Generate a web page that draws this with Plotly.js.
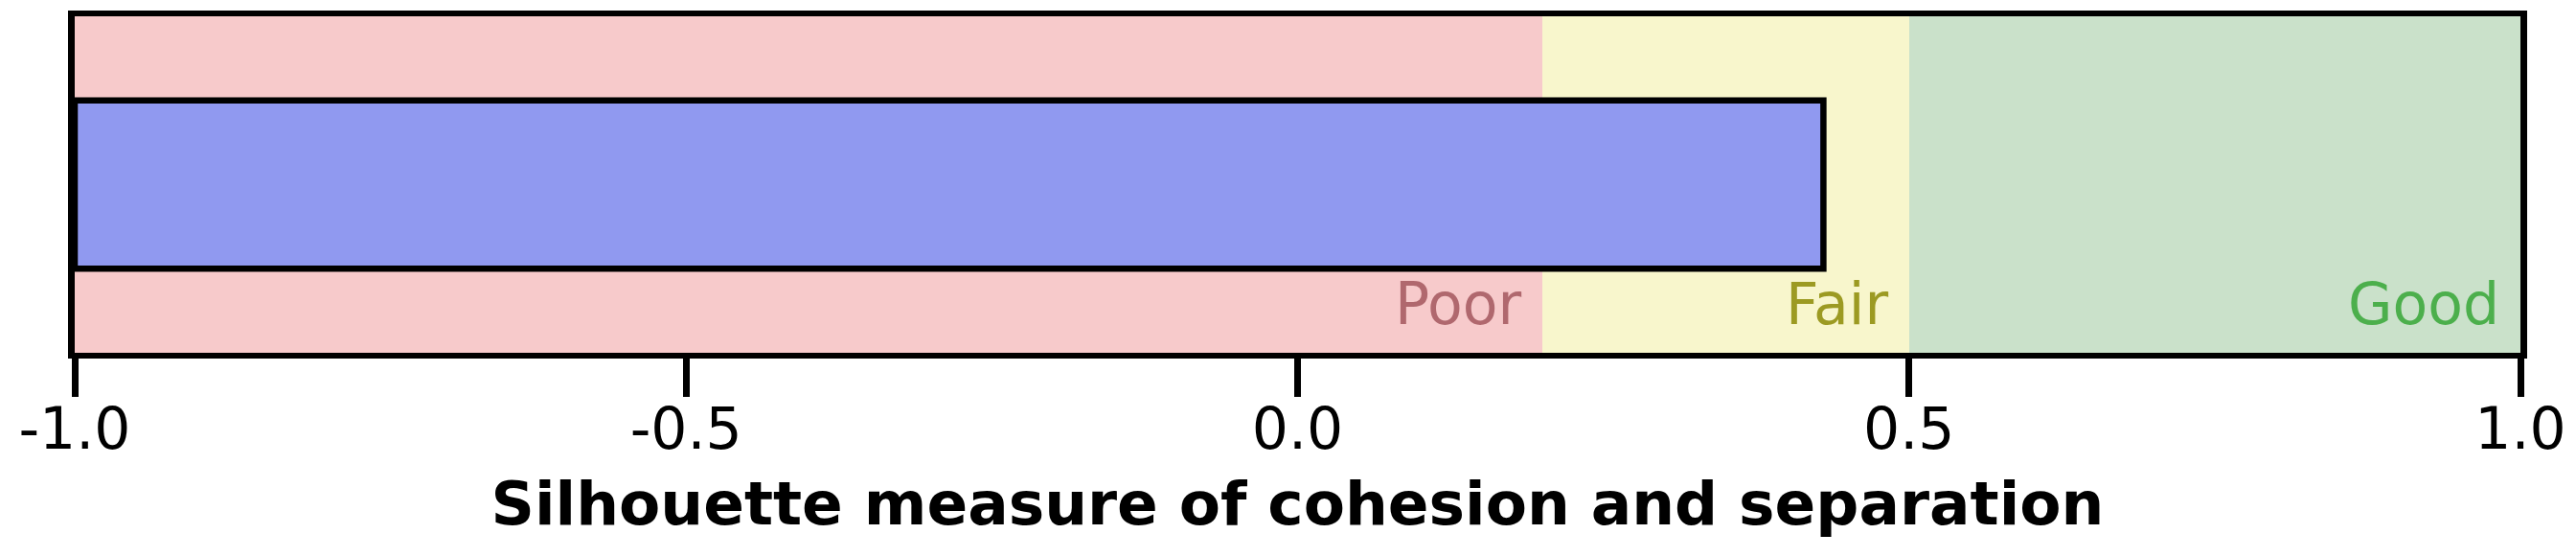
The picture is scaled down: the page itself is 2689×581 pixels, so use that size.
<!DOCTYPE html>
<html>
<head>
<meta charset="utf-8">
<script src="https://cdn.plot.ly/plotly-3.0.1.min.js"></script>
<style>
  html, body { margin: 0; padding: 0; background: #ffffff; }
  #chart { width: 2689px; height: 581px; }
</style>
</head>
<body>
<div id="chart"></div>
<script>
// ---- data ----
const bandNames  = ['Poor', 'Fair', 'Good'];
const bandStart  = [-1.0, 0.2, 0.5];
const bandEnd    = [0.2, 0.5, 1.0];
const bandColors = ['#F7CACB', '#F8F6CC', '#CAE1CA'];
const bandTextColors = ['#B0686E', '#9C9A22', '#4CAF4C'];

const measureLabel = ['Silhouette'];
const silhouetteValue = [0.43];
const axisMin = -1.0;

const tickVals = [-1.0, -0.5, 0.0, 0.5, 1.0];
const tickText = ['-1.0', '-0.5', '0.0', '0.5', '1.0'];
const xTitle = 'Silhouette measure of cohesion and separation';

// ---- traces ----
const bandTrace = {
  type: 'bar',
  orientation: 'h',
  y: bandNames.map(() => 0),
  x: bandEnd.map((e, i) => e - bandStart[i]),
  base: bandStart,
  width: bandNames.map(() => 1),
  marker: { color: bandColors, line: { width: 0 } },
  hoverinfo: 'skip',
  showlegend: false
};

const barTrace = {
  type: 'bar',
  orientation: 'h',
  y: measureLabel.map(() => 0),
  x: silhouetteValue.map(v => v - axisMin),
  base: silhouetteValue.map(() => axisMin),
  width: [0.5],
  marker: { color: '#9099F0', line: { color: '#000000', width: 6.5 } },
  showlegend: false
};

const annotations = bandNames.map((name, i) => ({
  text: name,
  x: bandEnd[i],
  xref: 'x',
  y: 0.145,
  yref: 'paper',
  xanchor: 'right',
  yanchor: 'middle',
  xshift: -20,
  showarrow: false,
  font: { family: 'DejaVu Sans', size: 60, color: bandTextColors[i] }
}));

const layout = {
  width: 2689,
  height: 581,
  margin: { l: 78, r: 58, t: 17, b: 213 },
  paper_bgcolor: '#ffffff',
  plot_bgcolor: '#ffffff',
  barmode: 'overlay',
  bargap: 0,
  showlegend: false,
  font: { family: 'DejaVu Sans', color: '#000000' },
  xaxis: {
    range: [-1, 1],
    tickmode: 'array',
    tickvals: tickVals,
    ticktext: tickText,
    ticks: 'outside',
    ticklen: 40,
    tickwidth: 7,
    tickcolor: '#000000',
    ticklabelstandoff: -18,
    showline: true,
    mirror: true,
    linewidth: 6,
    linecolor: '#000000',
    showgrid: false,
    zeroline: false,
    tickfont: { family: 'DejaVu Sans', size: 60, color: '#000000' },
    title: {
      text: xTitle,
      standoff: 24,
      font: { family: 'DejaVu Sans', size: 63, color: '#000000', weight: 'bold' }
    },
    fixedrange: true
  },
  yaxis: {
    range: [-0.5, 0.5],
    showticklabels: false,
    ticks: '',
    showline: true,
    mirror: true,
    linewidth: 7,
    linecolor: '#000000',
    showgrid: false,
    zeroline: false,
    fixedrange: true
  },
  annotations: annotations
};

Plotly.newPlot('chart', [bandTrace, barTrace], layout, { staticPlot: true, displayModeBar: false });
</script>
</body>
</html>
